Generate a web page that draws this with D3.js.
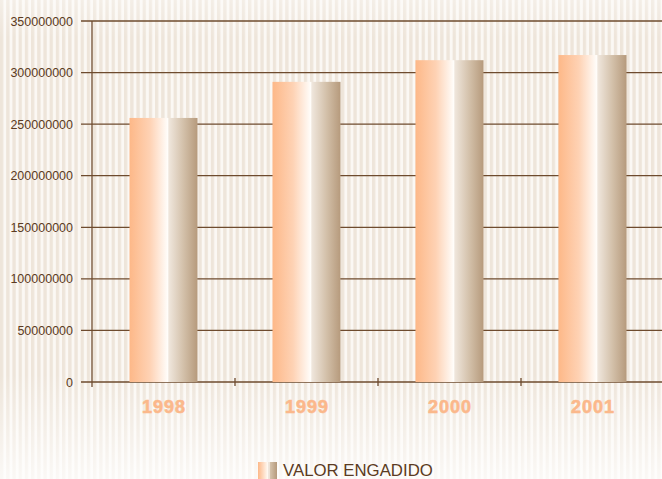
<!DOCTYPE html>
<html><head><meta charset="utf-8">
<script src="https://cdn.jsdelivr.net/npm/d3@7"></script>
<style>html,body{margin:0;padding:0;background:#fff;}svg{display:block;}</style>
</head><body>
<script>
const years = ["1998", "1999", "2000", "2001"];
const valores = [256000000, 291000000, 312000000, 317000000];
const yTicks = [0, 50000000, 100000000, 150000000, 200000000, 250000000, 300000000, 350000000];
const seriesName = "VALOR ENGADIDO";

const W = 662, H = 479;
const svg = d3.select("body").append("svg").attr("width", W).attr("height", H);
const defs = svg.append("defs");

// striped background
const pat = defs.append("pattern").attr("id","stripes").attr("patternUnits","userSpaceOnUse")
  .attr("width",6.2).attr("height",10);
pat.append("rect").attr("width",6.2).attr("height",10).attr("fill","#eee5da");
pat.append("rect").attr("x",3.3).attr("width",2.9).attr("height",10).attr("fill","#fbf8f4");
svg.append("rect").attr("width",W).attr("height",H).attr("fill","url(#stripes)");
const fade = defs.append("linearGradient").attr("id","fade").attr("x1",0).attr("x2",0).attr("y1",0).attr("y2",1);
fade.append("stop").attr("offset","0").attr("stop-color","#fff").attr("stop-opacity",0.35);
fade.append("stop").attr("offset","0.08").attr("stop-color","#fff").attr("stop-opacity",0);
fade.append("stop").attr("offset","0.78").attr("stop-color","#fff").attr("stop-opacity",0);
fade.append("stop").attr("offset","1").attr("stop-color","#fff").attr("stop-opacity",0.75);
svg.append("rect").attr("width",W).attr("height",H).attr("fill","url(#fade)");

// bar gradient
const bg = defs.append("linearGradient").attr("id","barg").attr("x1",0).attr("x2",1).attr("y1",0).attr("y2",0);
[["0","#fdb888"],["0.3","#fed2b4"],["0.56","#fffdfa"],["0.58","#efe6dc"],["0.8","#d2bfa8"],["1","#b69a7c"]]
  .forEach(([o,c]) => bg.append("stop").attr("offset",o).attr("stop-color",c));

const x0 = 92, yTop = 21, yBot = 382;
const x = d3.scaleBand().domain(years).range([x0, x0 + 143*4]).padding(0);
const y = d3.scaleLinear().domain([0, 350000000]).range([yBot, yTop]);
const axisColor = "#6e4b2e";

// gridlines
svg.append("g").selectAll("line").data(yTicks).join("line")
  .attr("x1", 81).attr("x2", W).attr("y1", d=>y(d)).attr("y2", d=>y(d))
  .attr("stroke", axisColor).attr("stroke-width", 1.3);

// y axis line
svg.append("line").attr("x1",x0).attr("x2",x0).attr("y1",yTop).attr("y2",yBot+5)
  .attr("stroke",axisColor).attr("stroke-width",1.3);

// y labels
svg.append("g").selectAll("text").data(yTicks).join("text")
  .attr("x", 73).attr("y", d=>y(d)+4.5).attr("text-anchor","end")
  .attr("font-family","Liberation Sans, Arial, sans-serif").attr("font-size",12.5)
  .attr("fill","#5b3b22").text(d=>d);

// bars
const bw = 68;
svg.append("g").selectAll("rect").data(years).join("rect")
  .attr("x", (d)=>x(d)+x.bandwidth()/2-bw/2).attr("width", bw)
  .attr("y", (d,i)=>y(valores[i])).attr("height",(d,i)=>yBot - y(valores[i]))
  .attr("fill","url(#barg)");

// x ticks
const xt = years.map(d=>x(d)).slice(1);
svg.append("g").selectAll("line").data(xt).join("line")
  .attr("x1",d=>d).attr("x2",d=>d).attr("y1",yBot-4).attr("y2",yBot+4)
  .attr("stroke",axisColor).attr("stroke-width",1.3);

// x labels
svg.append("g").selectAll("text").data(years).join("text")
  .attr("x", d=>x(d)+x.bandwidth()/2+0.5).attr("y", 413).attr("text-anchor","middle")
  .attr("font-family","Liberation Sans, Arial, sans-serif").attr("font-size",18).attr("font-weight","bold")
  .attr("letter-spacing","1px")
  .attr("stroke","#fbb88b").attr("stroke-width",0.6)
  .attr("fill","#fbb88b").text(d=>d);

// legend
const lg = defs.append("linearGradient").attr("id","legg").attr("x1",0).attr("x2",1);
[["0","#fdb888"],["0.5","#fff8f0"],["0.52","#efe6dc"],["0.6","#efe6dc"],["0.65","#d4c1aa"],["1","#b69a7c"]]
  .forEach(([o,c]) => lg.append("stop").attr("offset",o).attr("stop-color",c));
svg.append("rect").attr("x",258).attr("y",462).attr("width",19).attr("height",17).attr("fill","url(#legg)");
svg.append("text").attr("x",283).attr("y",476)
  .attr("font-family","Liberation Sans, Arial, sans-serif").attr("font-size",16.8)
  .attr("fill","#5b3b22").text(seriesName);
</script>
</body></html>
